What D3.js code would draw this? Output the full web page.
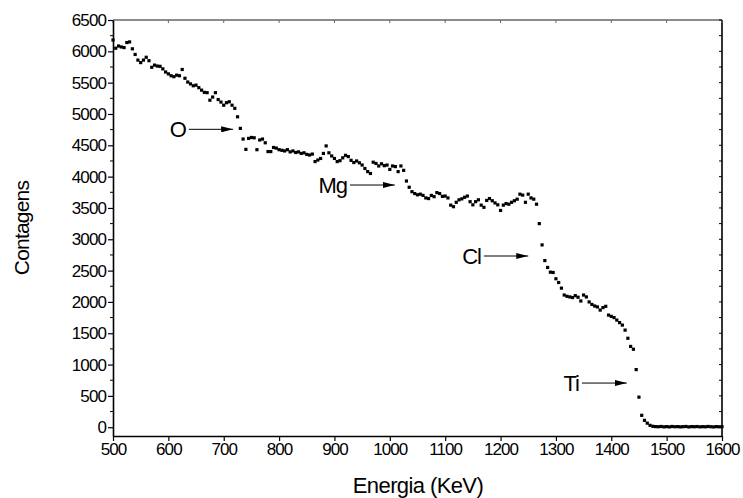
<!DOCTYPE html>
<html><head><meta charset="utf-8">
<script src="https://cdn.jsdelivr.net/npm/d3@7"></script>
<style>
html,body{margin:0;padding:0;background:#fff;}
svg text{font-family:"Liberation Sans",Arial,sans-serif;fill:#000;}
</style></head>
<body><svg id="c" width="743" height="498"></svg>
<script>
const energy = [
500,505,510,515,520,525,530,535,540,545,550,555,560,565,570,575,580,585,590,595,
600,605,610,615,620,625,630,635,640,645,650,655,660,665,670,675,680,685,690,695,
700,705,710,715,720,725,730,735,740,745,750,755,760,765,770,775,780,785,790,795,
800,805,810,815,820,825,830,835,840,845,850,855,860,865,870,875,880,885,890,895,
900,905,910,915,920,925,930,935,940,945,950,955,960,965,970,975,980,985,990,995,
1000,1005,1010,1015,1020,1025,1030,1035,1040,1045,1050,1055,1060,1065,1070,1075,1080,1085,1090,1095,
1100,1105,1110,1115,1120,1125,1130,1135,1140,1145,1150,1155,1160,1165,1170,1175,1180,1185,1190,1195,
1200,1205,1210,1215,1220,1225,1230,1235,1240,1245,1250,1255,1260,1265,1270,1275,1280,1285,1290,1295,
1300,1305,1310,1315,1320,1325,1330,1335,1340,1345,1350,1355,1360,1365,1370,1375,1380,1385,1390,1395,
1400,1405,1410,1415,1420,1425,1430,1435,1440,1445,1450,1455,1460,1465,1470,1475,1480,1485,1490,1495,
1500,1505,1510,1515,1520,1525,1530,1535,1540,1545,1550,1555,1560,1565,1570,1575,1580,1585,1590,1595,
1600];
const counts = [
6180,6050,6085,6070,6060,6140,6150,6040,5950,5860,5820,5860,5905,5850,5745,5780,5765,5760,5720,5670,
5640,5610,5595,5620,5610,5710,5570,5510,5480,5450,5460,5420,5380,5345,5340,5220,5270,5340,5230,5190,
5140,5180,5195,5140,5090,4955,4770,4600,4435,4610,4625,4620,4430,4585,4600,4540,4400,4400,4465,4455,
4430,4420,4410,4430,4395,4410,4385,4395,4370,4380,4355,4345,4360,4240,4265,4290,4370,4490,4380,4330,
4290,4240,4255,4300,4340,4320,4260,4225,4250,4220,4185,4130,4080,4050,4230,4210,4170,4205,4175,4185,
4115,4170,4160,4080,4170,4100,3930,3830,3760,3730,3710,3720,3700,3660,3650,3700,3680,3745,3730,3685,
3690,3660,3545,3520,3590,3630,3645,3670,3690,3600,3550,3600,3630,3545,3510,3620,3650,3615,3580,3550,
3460,3545,3570,3560,3590,3615,3640,3720,3705,3590,3720,3660,3640,3560,3250,2910,2660,2550,2475,2470,
2370,2310,2220,2110,2090,2080,2070,2100,2075,2015,2110,2080,2000,1960,1935,1920,1870,1910,1930,1790,
1770,1750,1710,1670,1630,1550,1420,1290,1245,920,480,190,110,65,30,15,10,8,12,6,
10,5,12,8,10,6,9,12,5,10,8,11,6,9,7,12,8,5,10,7,
9];
const xTicks = [500,600,700,800,900,1000,1100,1200,1300,1400,1500,1600];
const yTicks = [0,500,1000,1500,2000,2500,3000,3500,4000,4500,5000,5500,6000,6500];
const yMinor = [250,750,1250,1750,2250,2750,3250,3750,4250,4750,5250,5750,6250];
const notes = [
  {label:"O",  fromE:637,  toE:717,  at:4755},
  {label:"Mg", fromE:928,  toE:1009, at:3866},
  {label:"Cl", fromE:1170, toE:1250, at:2733},
  {label:"Ti", fromE:1347, toE:1428, at:705}
];

const svg = d3.select("#c");
const x = d3.scaleLinear().domain([500,1600]).range([113,722]);
const y = d3.scaleLinear().domain([-140,6500]).range([436,20]);
const fs = 17;
const fmt = d3.format("d");

// frame: top and right
svg.append("line").attr("x1",113).attr("x2",722).attr("y1",20).attr("y2",20)
  .attr("stroke","#666").attr("stroke-width",1.3);
svg.append("line").attr("x1",722).attr("x2",722).attr("y1",20).attr("y2",436)
  .attr("stroke","#000").attr("stroke-width",1.6);
svg.append("g").selectAll("line").data(xTicks).join("line")
  .attr("x1",d=>x(d)).attr("x2",d=>x(d)).attr("y1",20).attr("y2",23)
  .attr("stroke","#666");
svg.append("g").selectAll("line").data(yTicks.concat(yMinor)).join("line")
  .attr("x1",722).attr("x2",719).attr("y1",d=>y(d)).attr("y2",d=>y(d))
  .attr("stroke","#000");

// bottom axis
const gx = svg.append("g").attr("transform","translate(0,436)")
  .call(d3.axisBottom(x).tickValues(xTicks).tickFormat(fmt).tickSize(5).tickPadding(2).tickSizeOuter(0));
gx.select(".domain").attr("stroke","#000").attr("stroke-width",1.6);
gx.selectAll(".tick line").attr("stroke","#000").attr("stroke-width",1.2);
gx.selectAll("text").attr("font-size",fs).attr("font-family","Liberation Sans, Arial, sans-serif")
  .attr("letter-spacing","-0.9");

// left axis
const gy = svg.append("g").attr("transform","translate(113,0)")
  .call(d3.axisLeft(y).tickValues(yTicks).tickFormat(fmt).tickSize(5).tickPadding(2).tickSizeOuter(0));
gy.select(".domain").attr("stroke","#000").attr("stroke-width",1.6);
gy.selectAll(".tick line").attr("stroke","#000").attr("stroke-width",1.2);
gy.selectAll("text").attr("font-size",fs).attr("font-family","Liberation Sans, Arial, sans-serif")
  .attr("letter-spacing","-0.9");
svg.append("g").selectAll("line").data(yMinor).join("line")
  .attr("x1",113).attr("x2",110).attr("y1",d=>y(d)).attr("y2",d=>y(d))
  .attr("stroke","#000");

// data markers
svg.append("g").selectAll("rect").data(energy.map((e,i)=>[e,counts[i]])).join("rect")
  .attr("x",d=>x(d[0])-1.6).attr("y",d=>y(d[1])-1.6)
  .attr("width",3.2).attr("height",3.2).attr("fill","#000");

// annotations
const defs = svg.append("defs");
defs.append("marker").attr("id","ah").attr("viewBox","0 0 12 6")
  .attr("refX",12).attr("refY",3).attr("markerWidth",12).attr("markerHeight",6)
  .attr("markerUnits","userSpaceOnUse").attr("orient","auto")
  .append("path").attr("d","M0,0 L12,3 L0,6 Z").attr("fill","#000");
const ga = svg.append("g");
notes.forEach(n=>{
  ga.append("line").attr("x1",x(n.fromE)).attr("x2",x(n.toE))
    .attr("y1",y(n.at)).attr("y2",y(n.at))
    .attr("stroke","#000").attr("stroke-width",1).attr("marker-end","url(#ah)");
  ga.append("text").attr("x",x(n.fromE)-3).attr("y",y(n.at)+8)
    .attr("text-anchor","end").attr("font-size",22).attr("letter-spacing","-1").text(n.label);
});

// axis titles
svg.append("text").attr("x",418).attr("y",493).attr("text-anchor","middle")
  .attr("font-size",22).attr("letter-spacing","-0.6").text("Energia (KeV)");
svg.append("text").attr("transform","translate(29,228) rotate(-90)")
  .attr("text-anchor","middle").attr("font-size",21).attr("letter-spacing","-0.8").text("Contagens");
</script></body></html>
